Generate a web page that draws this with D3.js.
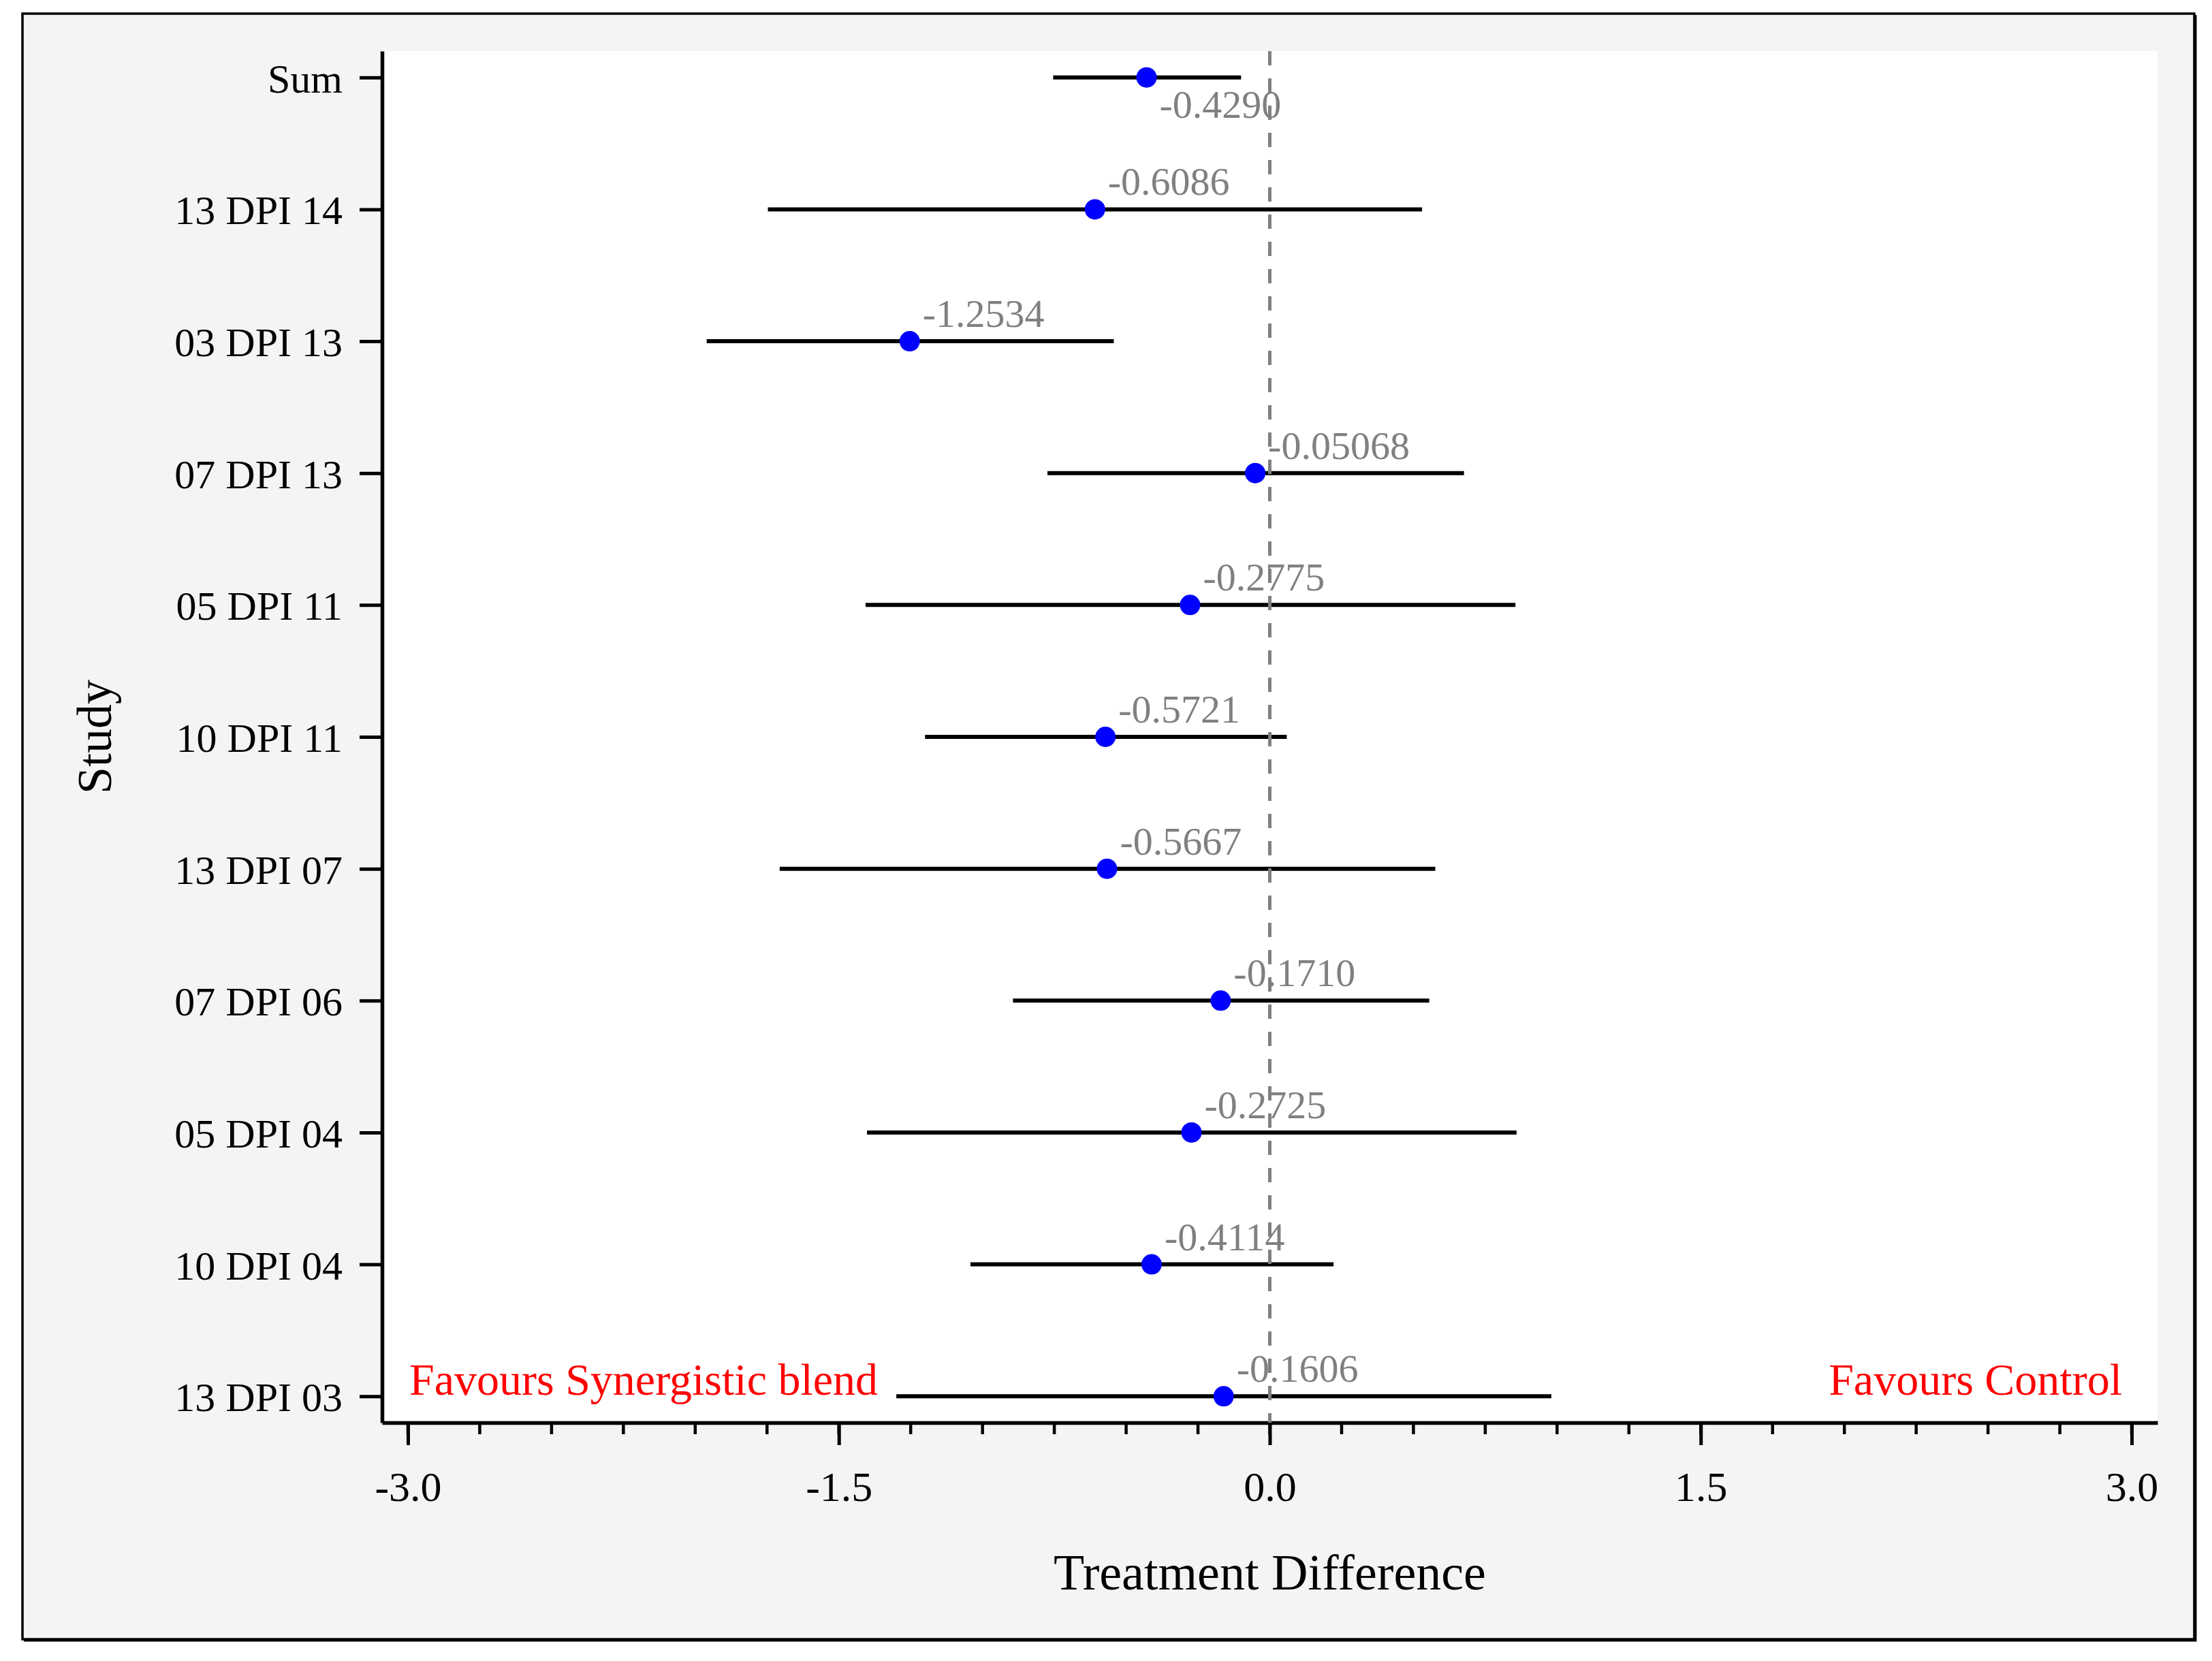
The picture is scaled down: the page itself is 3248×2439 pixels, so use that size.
<!DOCTYPE html>
<html>
<head>
<meta charset="utf-8">
<script src="https://cdn.jsdelivr.net/npm/d3@7"></script>
<style>
  body { margin: 0; background: #fff; }
  svg text { font-family: "Liberation Serif", "Times New Roman", serif; }
</style>
</head>
<body>
<svg width="3248" height="2439"></svg>
<script>
// forest plot data, top row first
var studies = ["Sum", "13 DPI 14", "03 DPI 13", "07 DPI 13", "05 DPI 11", "10 DPI 11",
               "13 DPI 07", "07 DPI 06", "05 DPI 04", "10 DPI 04", "13 DPI 03"];
var estimates = [-0.4290, -0.6086, -1.2534, -0.05068, -0.2775, -0.5721,
                 -0.5667, -0.1710, -0.2725, -0.4114, -0.1606];
var lower = [-0.754, -1.747, -1.960, -0.774, -1.407, -1.200,
             -1.706, -0.894, -1.402, -1.042, -1.300];
var upper = [-0.100, 0.530, -0.543, 0.676, 0.855, 0.059,
             0.576, 0.555, 0.859, 0.222, 0.980];
var estLabels = ["-0.4290", "-0.6086", "-1.2534", "-0.05068", "-0.2775", "-0.5721",
                 "-0.5667", "-0.1710", "-0.2725", "-0.4114", "-0.1606"];
var majorTicks = [-3, -1.5, 0, 1.5, 3];
var majorTickLabels = ["-3.0", "-1.5", "0.0", "1.5", "3.0"];

window.onload = draw();

function draw() {
	var svg = d3.select("svg"),
	    left = 561, right = 3168, top = 75, bottom = 2089;

	var rows = studies.map(function(s, i) {
		return { study: s, est: estimates[i], lo: lower[i], hi: upper[i], label: estLabels[i] };
	});

	// outer frame
	svg.append("rect")
	    .attr("x", 33).attr("y", 20)
	    .attr("width", 3189).attr("height", 2387)
	    .attr("fill", "#f4f4f4")
	    .attr("stroke", "#000")
	    .attr("stroke-width", 3.5);
	svg.append("path")
	    .attr("d", "M3224,22V2409H35")
	    .attr("fill", "none")
	    .attr("stroke", "#000")
	    .attr("stroke-width", 3);

	// plot area
	svg.append("rect")
	    .attr("x", left).attr("y", top)
	    .attr("width", right - left).attr("height", bottom - top)
	    .attr("fill", "#fff");

	var x = d3.scaleLinear()
	    .domain([-3.09, 3.09])
	    .range([left, right]);

	var y = d3.scalePoint()
	    .domain(studies)
	    .range([top, bottom])
	    .padding(0.2);

	// minor ticks every 0.25
	svg.append("g")
	    .selectAll("line")
	    .data(d3.range(-3, 3.001, 0.25))
	    .enter().append("line")
	      .attr("x1", function(d) { return x(d); })
	      .attr("x2", function(d) { return x(d); })
	      .attr("y1", bottom)
	      .attr("y2", bottom + 17)
	      .attr("stroke", "#000")
	      .attr("stroke-width", 4.5);

	var xAxis = svg.append("g")
	    .attr("transform", "translate(0," + bottom + ")")
	    .call(d3.axisBottom(x)
	        .tickValues(majorTicks)
	        .tickFormat(function(d, i) { return majorTickLabels[i]; })
	        .tickSize(33)
	        .tickSizeOuter(0)
	        .tickPadding(38));
	xAxis.select(".domain").attr("stroke-width", 5.5);
	xAxis.selectAll(".tick line").attr("stroke-width", 5);
	xAxis.selectAll(".tick text")
	    .attr("font-family", "Liberation Serif, Times New Roman, serif")
	    .attr("font-size", 62)
	    .attr("fill", "#000");

	var yAxis = svg.append("g")
	    .attr("transform", "translate(" + left + ",0)")
	    .call(d3.axisLeft(y)
	        .tickSize(33)
	        .tickSizeOuter(0)
	        .tickPadding(25));
	yAxis.select(".domain").attr("stroke-width", 5.5);
	yAxis.selectAll(".tick line").attr("stroke-width", 5);
	yAxis.selectAll(".tick text")
	    .attr("font-family", "Liberation Serif, Times New Roman, serif")
	    .attr("font-size", 60)
	    .attr("dy", "0.36em")
	    .attr("fill", "#000");

	// confidence intervals
	svg.append("g")
	    .selectAll("line")
	    .data(rows)
	    .enter().append("line")
	      .attr("x1", function(d) { return x(d.lo); })
	      .attr("x2", function(d) { return x(d.hi); })
	      .attr("y1", function(d) { return y(d.study); })
	      .attr("y2", function(d) { return y(d.study); })
	      .attr("stroke", "#000")
	      .attr("stroke-width", 6);

	// estimate labels, the top row sits below its bar
	svg.append("g")
	    .selectAll("text")
	    .data(rows)
	    .enter().append("text")
	      .attr("x", function(d) { return x(d.est) + 19; })
	      .attr("y", function(d, i) { return y(d.study) + (i === 0 ? 59 : -21); })
	      .attr("font-size", 58)
	      .attr("fill", "#808080")
	      .text(function(d) { return d.label; });

	// no-effect line
	svg.append("line")
	    .attr("x1", x(0)).attr("x2", x(0))
	    .attr("y1", top).attr("y2", bottom)
	    .attr("stroke", "#808080")
	    .attr("stroke-width", 5)
	    .attr("stroke-dasharray", "21,19");

	svg.append("g")
	    .selectAll("circle")
	    .data(rows)
	    .enter().append("circle")
	      .attr("cx", function(d) { return x(d.est); })
	      .attr("cy", function(d) { return y(d.study); })
	      .attr("r", 15)
	      .attr("fill", "#0000ff");

	svg.append("text")
	    .attr("x", 601)
	    .attr("y", 2048)
	    .attr("font-size", 66)
	    .attr("fill", "#ff0000")
	    .text("Favours Synergistic blend");

	svg.append("text")
	    .attr("x", 3116)
	    .attr("y", 2048)
	    .attr("text-anchor", "end")
	    .attr("font-size", 66)
	    .attr("fill", "#ff0000")
	    .text("Favours Control");

	svg.append("text")
	    .attr("x", (left + right) / 2)
	    .attr("y", 2334)
	    .attr("text-anchor", "middle")
	    .attr("font-size", 74)
	    .text("Treatment Difference");

	svg.append("text")
	    .attr("transform", "translate(163," + (top + bottom) / 2 + ") rotate(-90)")
	    .attr("text-anchor", "middle")
	    .attr("font-size", 72)
	    .text("Study");
}
</script>
</body>
</html>
